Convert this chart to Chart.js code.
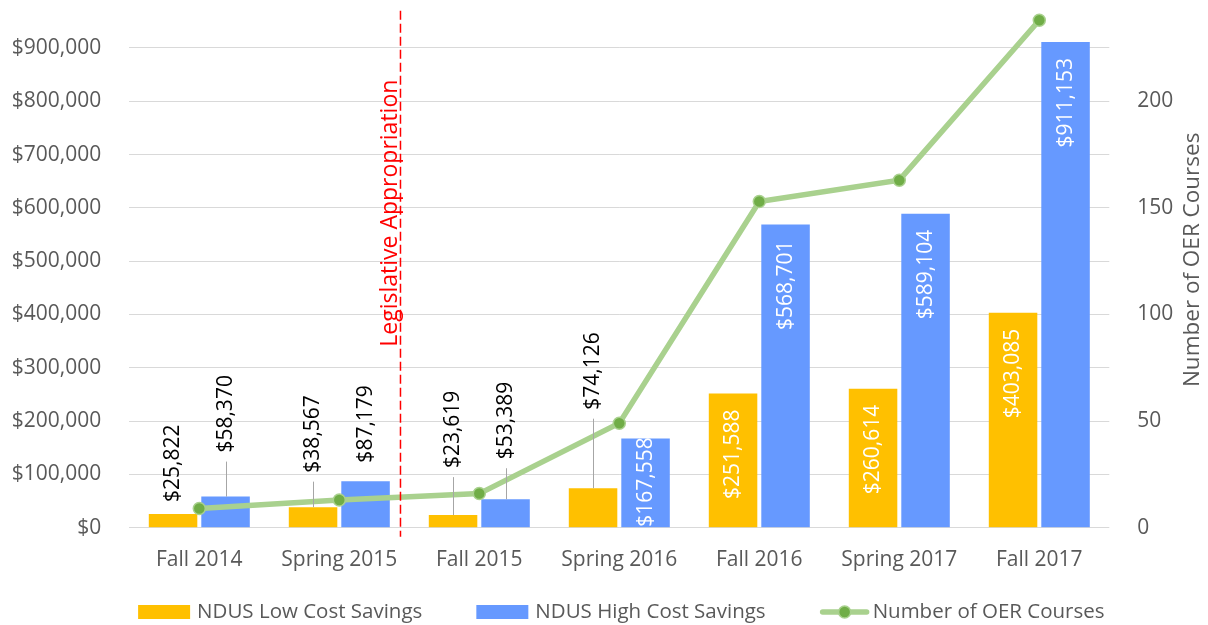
<!DOCTYPE html>
<html>
<head>
<meta charset="utf-8">
<script src="https://cdn.jsdelivr.net/npm/chart.js@4.4.1/dist/chart.umd.min.js"></script>
<style>
  html, body { margin: 0; padding: 0; background: #ffffff; }
  #wrap { width: 1208px; height: 625px; position: relative; }
</style>
</head>
<body>
<div id="wrap"><canvas id="c" width="1208" height="625"></canvas></div>
<script>
// ---------------- DATA ----------------
const categories = ['Fall 2014', 'Spring 2015', 'Fall 2015', 'Spring 2016', 'Fall 2016', 'Spring 2017', 'Fall 2017'];
const lowCostSavings = [25822, 38567, 23619, 74126, 251588, 260614, 403085];
const highCostSavings = [58370, 87179, 53389, 167558, 568701, 589104, 911153];
const oerCourses = [9, 13, 16, 49, 153, 163, 238];
const seriesNames = ['NDUS Low Cost Savings', 'NDUS High Cost Savings', 'Number of OER Courses'];
const dollarTicks = [0, 100000, 200000, 300000, 400000, 500000, 600000, 700000, 800000, 900000];
const courseTicks = [0, 50, 100, 150, 200];
const rightAxisTitle = 'Number of OER Courses';
const annotationText = 'Legislative Appropriation';

// ---------------- LAYOUT / STYLE ----------------
const FONT = "'Open Sans', sans-serif";
const GREY = '#595959';
const COLORS = { low: '#FFC000', high: '#6699FF', line: '#A9D18E', point: '#70AD47', red: '#FF0000' };
// pixel lift of manually placed (outside) labels above their bar; null = label inside bar end
const outsideLiftLow = [12, 34.5, 47, 78.5, null, null, null];
const outsideLiftHigh = [44, 18.6, 40, null, null, null, null];
const annotationAt = 1.437;      // category-axis position of the dashed line
const annotationTop = 970000;    // y value where the dashed line starts
const annotationTextCenter = 590000;

Chart.defaults.font.family = FONT;

function fmtDollar(v) { return '$' + Number(v).toLocaleString('en-US'); }

function drawUp(ctx, text, cx, yStart, color, size) {
  ctx.save();
  ctx.translate(cx, yStart);
  ctx.rotate(-Math.PI / 2);
  ctx.font = size + 'px ' + FONT;
  ctx.textAlign = 'left';
  ctx.textBaseline = 'middle';
  ctx.fillStyle = color;
  ctx.fillText(text, 0, 0);
  ctx.restore();
}

const overlay = {
  id: 'overlay',
  afterDatasetsDraw(chart) {
    const { ctx, chartArea, scales } = chart;
    const y = scales.y, x = scales.x;
    const base = y.getPixelForValue(0);
    ctx.save();
    ctx.font = '21px ' + FONT;
    [[1, lowCostSavings, outsideLiftLow], [2, highCostSavings, outsideLiftHigh]].forEach(([di, vals, lifts]) => {
      const meta = chart.getDatasetMeta(di);
      meta.data.forEach((bar, i) => {
        const text = fmtDollar(vals[i]);
        const w = ctx.measureText(text).width;
        const top = bar.y;
        const cx = bar.x;
        if (lifts[i] === null) {
          let start = Math.min(top + 16 + w, base - 1);
          drawUp(ctx, text, cx, start, '#FFFFFF', 21);
        } else {
          const start = top - lifts[i];
          drawUp(ctx, text, cx, start, '#000000', 21);
          if (lifts[i] > 25) {
            ctx.save();
            ctx.strokeStyle = '#A6A6A6';
            ctx.lineWidth = 1;
            ctx.beginPath();
            ctx.moveTo(Math.round(cx) + 0.5, start + 9);
            ctx.lineTo(Math.round(cx) + 0.5, top);
            ctx.stroke();
            ctx.restore();
          }
        }
      });
    });
    // dashed annotation line
    const lx = x.getPixelForValue(annotationAt);
    ctx.save();
    ctx.strokeStyle = COLORS.red;
    ctx.lineWidth = 1.5;
    ctx.setLineDash([9, 4]);
    ctx.beginPath();
    ctx.moveTo(lx, y.getPixelForValue(annotationTop));
    ctx.lineTo(lx, chartArea.bottom + 9);
    ctx.stroke();
    ctx.restore();
    ctx.save();
    ctx.translate(lx - 3.5, y.getPixelForValue(annotationTextCenter));
    ctx.rotate(-Math.PI / 2);
    ctx.font = '23px ' + FONT;
    ctx.fillStyle = COLORS.red;
    ctx.textAlign = 'center';
    ctx.textBaseline = 'alphabetic';
    ctx.fillText(annotationText, 0, 0);
    ctx.restore();
    ctx.restore();
  },
  afterDraw(chart) {
    const { ctx, chartArea } = chart;
    // right axis title
    ctx.save();
    ctx.translate(1193, (chartArea.top + chartArea.bottom) / 2 - 4);
    ctx.rotate(-Math.PI / 2);
    ctx.font = '22.5px ' + FONT;
    ctx.fillStyle = GREY;
    ctx.textAlign = 'center';
    ctx.textBaseline = 'middle';
    ctx.fillText(rightAxisTitle, 0, 0);
    ctx.restore();
    // legend
    ctx.save();
    ctx.font = '20.5px ' + FONT;
    const boxW = 52, boxH = 14, gapText = 7, gapItem = 54, lineW = 50;
    const widths = seriesNames.map(n => ctx.measureText(n).width);
    const total = boxW + gapText + widths[0] + gapItem + boxW + gapText + widths[1] + gapItem + lineW + 3 + widths[2];
    let cx = (chartArea.left + chartArea.right) / 2 + 2 - total / 2;
    const cy = 612;
    ctx.textBaseline = 'middle';
    ctx.textAlign = 'left';
    ctx.fillStyle = COLORS.low;
    ctx.fillRect(cx, cy - boxH / 2, boxW, boxH);
    cx += boxW + gapText;
    ctx.fillStyle = GREY;
    ctx.fillText(seriesNames[0], cx, cy);
    cx += widths[0] + gapItem;
    ctx.fillStyle = COLORS.high;
    ctx.fillRect(cx, cy - boxH / 2, boxW, boxH);
    cx += boxW + gapText;
    ctx.fillStyle = GREY;
    ctx.fillText(seriesNames[1], cx, cy);
    cx += widths[1] + gapItem;
    ctx.strokeStyle = COLORS.line;
    ctx.lineWidth = 5.5;
    ctx.lineCap = 'round';
    ctx.beginPath();
    ctx.moveTo(cx + 3, cy);
    ctx.lineTo(cx + lineW - 3, cy);
    ctx.stroke();
    ctx.beginPath();
    ctx.arc(cx + lineW / 2, cy, 6, 0, Math.PI * 2);
    ctx.fillStyle = COLORS.point;
    ctx.fill();
    ctx.lineWidth = 1.5;
    ctx.stroke();
    cx += lineW + 3;
    ctx.fillStyle = GREY;
    ctx.fillText(seriesNames[2], cx, cy);
    ctx.restore();
  }
};

new Chart(document.getElementById('c').getContext('2d'), {
  type: 'bar',
  data: {
    labels: categories,
    datasets: [
      {
        type: 'line', label: seriesNames[2], data: oerCourses, yAxisID: 'y1', order: 0,
        borderColor: COLORS.line, borderWidth: 5.5, tension: 0,
        pointRadius: 6, pointBackgroundColor: COLORS.point, pointBorderColor: COLORS.line, pointBorderWidth: 1.5,
        clip: false
      },
      {
        label: seriesNames[0], data: lowCostSavings, yAxisID: 'y', order: 1,
        backgroundColor: COLORS.low, categoryPercentage: 0.75, barPercentage: 0.924
      },
      {
        label: seriesNames[1], data: highCostSavings, yAxisID: 'y', order: 1,
        backgroundColor: COLORS.high, categoryPercentage: 0.75, barPercentage: 0.924
      }
    ]
  },
  options: {
    responsive: false,
    animation: false,
    devicePixelRatio: 1,
    layout: { autoPadding: false, padding: { left: 0, right: 0, top: 0, bottom: 43.3 } },
    plugins: { legend: { display: false }, tooltip: { enabled: false } },
    scales: {
      x: {
        grid: { display: false },
        border: { display: false },
        ticks: { color: GREY, font: { size: 21 }, padding: 12, maxRotation: 0, autoSkip: false },
        afterFit: s => { s.height = 54; }
      },
      y: {
        position: 'left', min: 0, max: 990000,
        grid: { color: '#D9D9D9', lineWidth: 1, drawTicks: false },
        border: { display: false },
        ticks: { color: GREY, font: { size: 21 }, padding: 28, callback: v => fmtDollar(v) },
        afterBuildTicks: s => { s.ticks = dollarTicks.map(v => ({ value: v })); },
        afterFit: s => { s.width = 129.3; s.paddingTop = 0; s.paddingBottom = 0; }
      },
      y1: {
        position: 'right', min: 0, max: 247.5,
        grid: { display: false, drawOnChartArea: false },
        border: { display: false },
        ticks: { color: GREY, font: { size: 21 }, padding: 20 },
        afterBuildTicks: s => { s.ticks = courseTicks.map(v => ({ value: v })); },
        afterFit: s => { s.width = 98.7; s.paddingTop = 0; s.paddingBottom = 0; }
      }
    }
  },
  plugins: [overlay]
});
</script>
</body>
</html>
